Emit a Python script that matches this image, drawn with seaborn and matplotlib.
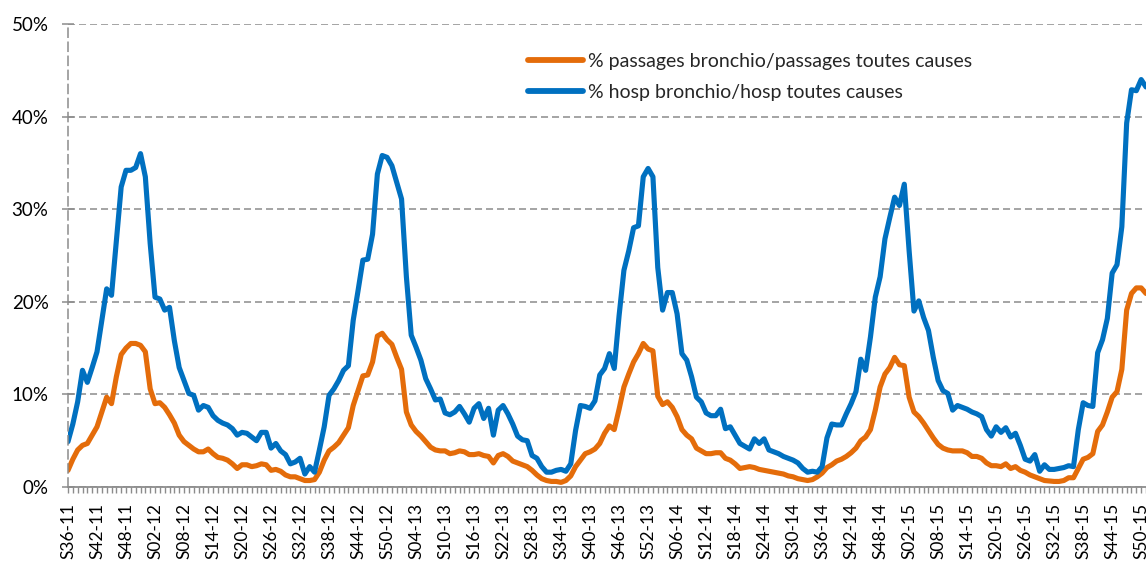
import numpy as np
import pandas as pd
import matplotlib
matplotlib.use("Agg")
import matplotlib.pyplot as plt
import seaborn as sns

# weekly values (%), from S36-11 to S51-15
passages = [1.8, 3.0, 4.0, 4.5, 4.7, 5.6, 6.5, 8.1, 9.7, 9.0, 11.9, 14.3, 15.0, 15.5, 15.5, 15.3,
            14.6, 10.6, 9.0, 9.1, 8.6, 7.8, 6.9, 5.6,
            4.9, 4.5, 4.1, 3.8, 3.8, 4.1, 3.6, 3.2, 3.1, 2.9, 2.5, 2.0, 2.4, 2.4, 2.2, 2.3,
            2.5, 2.4, 1.8, 1.9, 1.7, 1.3, 1.1, 1.1, 0.9, 0.7, 0.7, 0.8, 1.6, 2.9, 3.9, 4.3,
            4.8, 5.6, 6.4, 8.8, 10.4, 12.0, 12.1, 13.5, 16.3, 16.6, 15.9, 15.4, 14.0, 12.7,
            8.1, 6.7, 6.0, 5.5, 4.9, 4.3, 4.0, 3.9, 3.9,
            3.6, 3.7, 3.9, 3.8, 3.5, 3.5, 3.6, 3.4, 3.3, 2.6, 3.4, 3.6, 3.3, 2.8, 2.6, 2.4,
            2.2, 1.8, 1.3, 0.9, 0.7, 0.6, 0.6, 0.5, 0.7, 1.2, 2.2, 2.9, 3.6, 3.8, 4.1, 4.7,
            5.8, 6.6, 6.2, 8.4, 10.8, 12.2, 13.5, 14.4,
            15.5, 14.9, 14.7, 9.8, 8.9, 9.2, 8.6, 7.6, 6.2, 5.6, 5.2, 4.2, 3.9, 3.6, 3.6,
            3.7, 3.7, 3.1, 2.9, 2.5, 2.0, 2.1, 2.2, 2.1, 1.9, 1.8, 1.7, 1.6, 1.5, 1.4, 1.2,
            1.1, 0.9, 0.8, 0.7, 0.8, 1.1, 1.5, 2.1,
            2.4, 2.8, 3.0, 3.3, 3.7, 4.2, 5.0, 5.4, 6.2, 8.3, 10.8, 12.2, 12.9, 14.0, 13.2,
            13.1, 9.7, 8.1, 7.6, 6.9, 6.1, 5.3, 4.6, 4.2, 4.0, 3.9, 3.9, 3.9, 3.7, 3.3, 3.3,
            3.1, 2.6, 2.3, 2.3, 2.2, 2.5, 2.0, 2.2, 1.8,
            1.6, 1.3, 1.1, 0.9, 0.7, 0.65, 0.6, 0.6, 0.7, 1.0, 1.0, 2.0, 3.0, 3.2, 3.6, 6.0,
            6.7, 8.1, 9.7, 10.3, 12.7, 19.1, 20.9, 21.5, 21.5, 20.9]

hosp = [4.9, 6.8, 9.2, 12.6, 11.3, 12.9, 14.6, 18.0, 21.4, 20.7, 26.6, 32.4, 34.2, 34.2, 34.5, 36.0,
        33.5, 26.3, 20.5, 20.3, 19.1, 19.4, 15.8, 12.9, 11.5, 10.1, 9.9, 8.3, 8.8, 8.6, 7.7, 7.2,
        6.9, 6.7, 6.3, 5.6, 5.9, 5.8, 5.4, 5.0,
        5.9, 5.9, 4.2, 4.7, 3.9, 3.5, 2.5, 2.7, 3.1, 1.4, 2.2, 1.6, 4.0, 6.5, 9.9, 10.6,
        11.5, 12.6, 13.1, 18.0, 21.2, 24.5, 24.6, 27.3, 33.8, 35.8, 35.6, 34.7, 32.9, 31.1,
        22.7, 16.4, 15.1, 13.7, 11.7, 10.6, 9.4, 9.5, 8.0,
        7.8, 8.1, 8.7, 7.9, 7.0, 8.5, 9.0, 7.4, 8.5, 5.6, 8.3, 8.8, 7.9, 6.8, 5.5, 5.1,
        5.0, 3.4, 3.1, 2.2, 1.6, 1.6, 1.8, 1.9, 1.7, 2.5, 6.1, 8.8, 8.7, 8.5, 9.3, 12.1,
        12.8, 14.4, 12.8, 18.5, 23.4, 25.5, 28.0, 28.2,
        33.5, 34.4, 33.5, 23.7, 19.1, 21.0, 21.0, 18.7, 14.4, 13.7, 11.9, 9.7, 9.2, 8.0,
        7.7, 7.7, 8.4, 6.3, 6.5, 5.6, 4.7, 4.4, 4.1, 5.2, 4.7, 5.2, 4.0, 3.8, 3.6, 3.3,
        3.1, 2.9, 2.6, 2.0, 1.6, 1.7, 1.6, 2.2, 5.3,
        6.8, 6.7, 6.7, 7.9, 9.0, 10.3, 13.8, 12.6, 16.2, 20.5, 22.7, 26.8, 29.1, 31.3,
        30.4, 32.7, 25.5, 19.0, 20.1, 18.3, 16.9, 14.0, 11.5, 10.4, 10.1, 8.3, 8.8, 8.6,
        8.4, 8.1, 7.9, 7.6, 6.2, 5.5, 6.5, 5.9, 6.4, 5.4, 5.8, 4.5,
        3.0, 2.8, 3.5, 1.7, 2.4, 1.9, 1.9, 2.0, 2.1, 2.3, 2.2, 6.2, 9.1, 8.8, 8.7, 14.5,
        15.9, 18.2, 23.1, 24.0, 28.1, 39.3, 42.9, 42.8, 44.0, 43.2]

lab_pass = "% passages bronchio/passages toutes causes"
lab_hosp = "% hosp bronchio/hosp toutes causes"
orange = "#E46C0A"
blue = "#0070C0"
grey = "#8C8C8C"

# semaine labels S36-11 ... (52 weeks per year up to 2014)
semaines = []
w, an = 36, 2011
for _ in range(len(passages)):
    semaines.append("S%02d-%02d" % (w, an % 100))
    w += 1
    if w > 52:
        w = 1
        an += 1

df = pd.DataFrame({"idx": np.arange(len(passages)), lab_pass: passages, lab_hosp: hosp})
long_df = df.melt(id_vars="idx", var_name="serie", value_name="pct")

sns.set_style("white")
plt.rcParams["font.family"] = ["Lato", "DejaVu Sans"]

W, H = 1146, 561
fig = plt.figure(figsize=(W / 100, H / 100), dpi=100)
ax = fig.add_axes([68 / W, 74 / H, 1 - 68 / W, (487 - 24) / H])

sns.lineplot(data=long_df, x="idx", y="pct", hue="serie", hue_order=[lab_pass, lab_hosp],
             palette=[orange, blue], linewidth=3.7, ax=ax,
             solid_joinstyle="round", solid_capstyle="round")

ax.set_xlim(0, len(passages) - 1)
ax.set_ylim(0, 50)
ax.set_yticks(range(0, 51, 10))
ax.set_yticklabels(["%d%%" % v for v in range(0, 51, 10)])

ticks = list(range(0, len(semaines), 6))
ax.set_xticks(ticks)
ax.set_xticklabels([semaines[i] for i in ticks], rotation=90)
ax.set_xticks(range(len(semaines)), minor=True)

ax.set_xlabel("")
ax.set_ylabel("")

ax.yaxis.grid(True, linestyle=(0, (4.6, 2.6)), color=grey, linewidth=1.1)
ax.set_axisbelow(True)
for s in ["top", "right"]:
    ax.spines[s].set_visible(False)
ax.spines["left"].set_linestyle((0, (5.9, 3.3)))
ax.spines["left"].set_color(grey)
ax.spines["left"].set_linewidth(1.1)
ax.spines["bottom"].set_color(grey)
ax.spines["bottom"].set_linewidth(1.3)

ax.tick_params(axis="y", length=8, width=1.1, color=grey, direction="inout", pad=10,
               labelsize=13.5, labelcolor="black", left=True)
ax.tick_params(axis="x", which="both", length=4, width=1.0, color=grey, direction="out",
               pad=7.5, labelsize=12.5, labelcolor="black", bottom=True)

handles, labels = ax.get_legend_handles_labels()
leg = ax.legend(handles, labels, loc="upper left", bbox_to_anchor=(0.427, 0.937),
                frameon=False, fontsize=14, handlelength=2.8, handletextpad=0.25,
                labelspacing=0.72, borderpad=0, borderaxespad=0)
for line in leg.get_lines():
    line.set_linewidth(4.2)

fig.savefig("out.png", dpi=100)
